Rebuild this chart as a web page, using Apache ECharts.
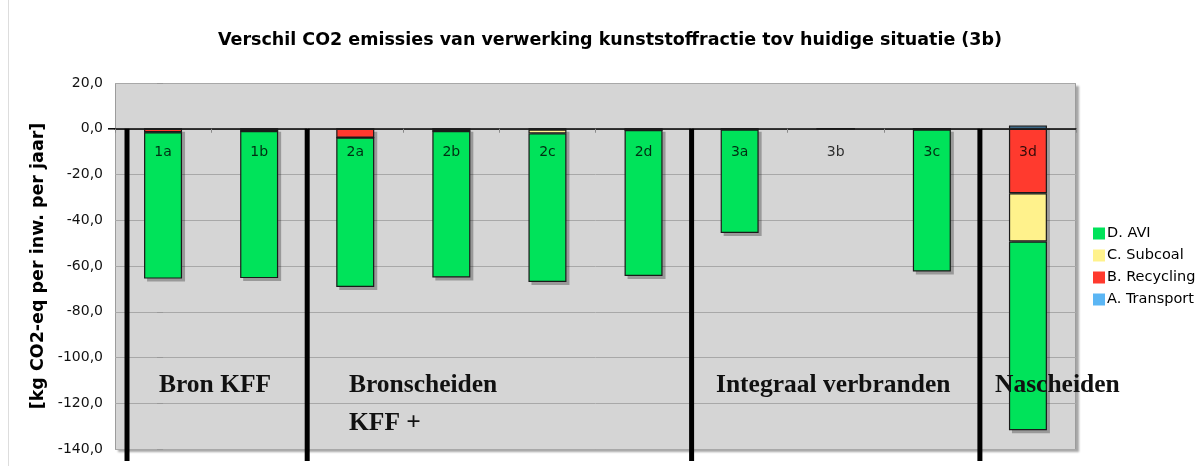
<!DOCTYPE html>
<html>
<head>
<meta charset="utf-8">
<script src="https://cdn.jsdelivr.net/npm/echarts@6/dist/echarts.min.js"></script>
<style>
html,body{margin:0;padding:0;background:#fff;}
#chart{width:1203px;height:466px;}
</style>
</head>
<body>
<div id="chart"></div>
<script>
const categories = ['1a','1b','2a','2b','2c','2d','3a','3b','3c','3d'];
const transport = [0, 0, 0, 0, 0, 0, 0, 0, 0, 1.4];
const recycling = [-1.5, -1.0, -3.9, -1.0, -0.4, -0.6, -0.3, 0, -0.3, -28.2];
const subcoal   = [0, 0, 0, 0, -1.6, 0, 0, 0, 0, -21.1];
const avi       = [-64.0, -64.3, -65.3, -64.0, -65.0, -63.8, -45.3, 0, -62.1, -82.5];
const yTicks = [-140, -120, -100, -80, -60, -40, -20, 0, 20];
const groupDividers = [-0.375, 1.5, 5.5, 8.5];
const groupNames = [
  {text: 'Bron KFF', x: 159, y: 385},
  {text: 'Bronscheiden', x: 349, y: 385},
  {text: 'KFF +', x: 349, y: 423},
  {text: 'Integraal verbranden', x: 716, y: 385},
  {text: 'Nascheiden', x: 995, y: 385}
];

const allSeries = [transport, recycling, subcoal, avi];
const stackTotals = categories.map((c, i) => {
  let pos = 0, neg = 0;
  allSeries.forEach((s) => { if (s[i] > 0) pos += s[i]; else neg += s[i]; });
  return [i, pos, neg];
});

const chart = echarts.init(document.getElementById('chart'), null, {renderer: 'canvas'});
const BW = 38;
const barStyle = (color) => ({color: color, borderColor: '#1a1a1a', borderWidth: 1.2});
const serif = '"Liberation Serif", "DejaVu Serif", serif';

const option = {
  backgroundColor: '#ffffff',
  animation: false,
  title: {
    text: 'Verschil CO2 emissies van verwerking kunststoffractie tov huidige situatie (3b)',
    left: 605,
    top: 26,
    textAlign: 'center',
    textStyle: {fontFamily: 'DejaVu Sans', fontWeight: 'bold', fontSize: 17.5, color: '#000'}
  },
  legend: {
    orient: 'vertical',
    left: 1093,
    top: 226,
    padding: 0,
    itemWidth: 12,
    itemHeight: 12,
    itemGap: 7,
    icon: 'rect',
    data: ['D. AVI', 'C. Subcoal', 'B. Recycling', 'A. Transport'],
    textStyle: {fontFamily: 'DejaVu Sans', fontSize: 14.5, color: '#000', padding: [0, 0, 0, -3]},
    itemStyle: {borderWidth: 0}
  },
  grid: {
    left: 115, right: 127, top: 83, bottom: 17,
    show: true,
    backgroundColor: '#d5d5d5',
    borderWidth: 0,
    shadowColor: 'rgba(0,0,0,0.35)',
    shadowBlur: 2,
    shadowOffsetX: 3,
    shadowOffsetY: 3
  },
  xAxis: [{
    type: 'category',
    data: categories,
    axisLine: {onZero: true, lineStyle: {color: '#000', width: 1.5}},
    axisTick: {show: true, interval: 0, length: 4, lineStyle: {color: '#888'}},
    axisLabel: {show: false},
    splitLine: {show: false}
  }, {
    type: 'value',
    min: -0.5, max: 9.5,
    show: false
  }],
  yAxis: {
    type: 'value',
    min: yTicks[0],
    max: yTicks[yTicks.length - 1],
    interval: 20,
    name: '[kg CO2-eq per inw. per jaar]',
    nameLocation: 'middle',
    nameRotate: 90,
    nameGap: 65,
    nameTextStyle: {fontFamily: 'DejaVu Sans', fontWeight: 'bold', fontSize: 17.5, color: '#000'},
    axisLine: {show: false},
    axisTick: {show: true, length: 6, lineStyle: {color: '#999'}},
    axisLabel: {
      fontFamily: 'DejaVu Sans', fontSize: 14, color: '#111', margin: 12,
      formatter: (v) => v.toFixed(1).replace('.', ',')
    },
    splitLine: {lineStyle: {color: '#a8a8a8', width: 1}}
  },
  series: [
    {
      name: 'barShadow', type: 'custom', z: 1, silent: true,
      data: stackTotals,
      renderItem: (params, api) => {
        const pos = api.value(1), neg = api.value(2);
        if (pos === 0 && neg === 0) return null;
        const t = api.coord([api.value(0), pos]);
        const b = api.coord([api.value(0), neg]);
        return {
          type: 'rect',
          shape: {x: t[0] - BW / 2 + 3, y: t[1] + 3, width: BW, height: b[1] - t[1]},
          style: {fill: 'rgba(0,0,0,0.28)'}
        };
      }
    },
    {name: 'A. Transport', type: 'bar', stack: 'total', barWidth: BW, data: transport, itemStyle: barStyle('#5bb6f4')},
    {name: 'B. Recycling', type: 'bar', stack: 'total', barWidth: BW, data: recycling, itemStyle: barStyle('#ff3a2e')},
    {name: 'C. Subcoal', type: 'bar', stack: 'total', barWidth: BW, data: subcoal, itemStyle: barStyle('#fff28c')},
    {name: 'D. AVI', type: 'bar', stack: 'total', barWidth: BW, data: avi, itemStyle: barStyle('#00e35a')},
    {
      name: 'labels', type: 'scatter', symbolSize: 0, z: 5, silent: true,
      data: categories.map(() => 0),
      label: {
        show: true, position: 'inside', offset: [0, 24],
        formatter: (p) => categories[p.dataIndex],
        fontFamily: 'DejaVu Sans', fontSize: 14, color: '#000'
      }
    },
    {
      name: 'dividers', type: 'custom', xAxisIndex: 1, clip: false, z: 4, silent: true,
      data: groupDividers.map((d) => [d]),
      renderItem: (params, api) => {
        const p0 = api.coord([api.value(0), 0]);
        const p1 = api.coord([api.value(0), yTicks[0]]);
        return {
          type: 'line',
          shape: {x1: p0[0], y1: p0[1], x2: p1[0], y2: p1[1] + 12},
          style: {stroke: '#000', lineWidth: 5}
        };
      }
    }
  ],
  graphic: [
    {type: 'line', shape: {x1: 8.5, y1: 0, x2: 8.5, y2: 466}, style: {stroke: '#dddddd', lineWidth: 1}, silent: true},
    {type: 'line', shape: {x1: 108, y1: 128.8, x2: 116, y2: 128.8}, style: {stroke: '#000', lineWidth: 1.5}, silent: true},
    {type: 'rect', shape: {x: 115.5, y: 83.5, width: 960, height: 366}, style: {fill: null, stroke: '#9c9c9c', lineWidth: 1}, silent: true, z: 0}
  ].concat(groupNames.map((g) => ({
    type: 'text', left: g.x, top: g.y - 13, z: 100,
    style: {text: g.text, font: 'bold 25.5px ' + serif, fill: '#111'}
  })))
};
chart.setOption(option);
</script>
</body>
</html>
